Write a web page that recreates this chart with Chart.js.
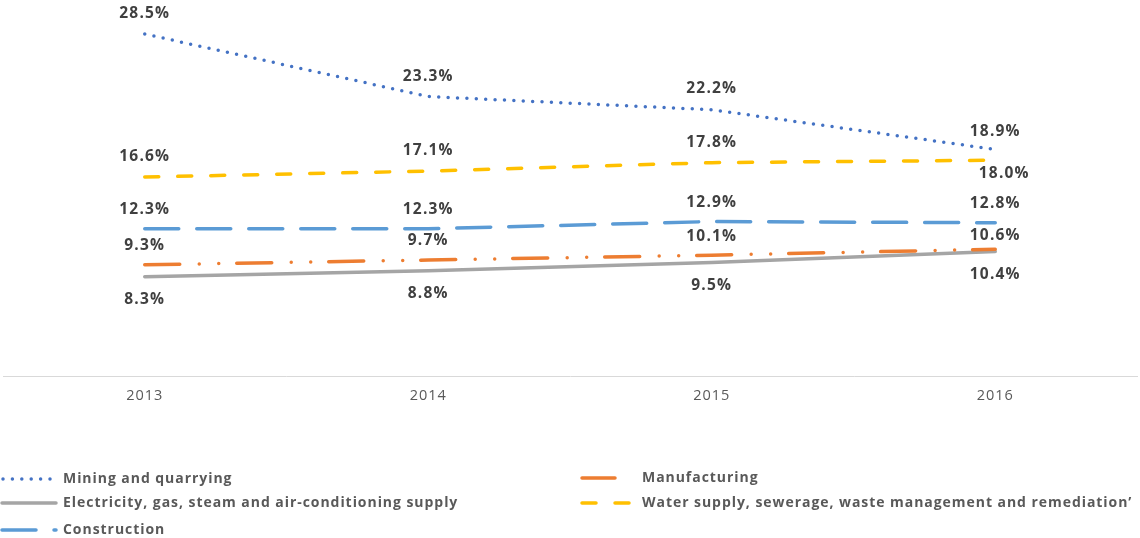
<!DOCTYPE html>
<html>
<head>
<meta charset="utf-8">
<script src="https://cdn.jsdelivr.net/npm/chart.js@4.4.1/dist/chart.umd.min.js"></script>
<style>
  html, body { margin: 0; padding: 0; background: #fff; }
  #chart { display: block; }
</style>
</head>
<body>
<canvas id="chart" width="1140" height="538"></canvas>
<script>
// data
var years = ["2013", "2014", "2015", "2016"];
var mining = [28.5, 23.3, 22.2, 18.9];
var manufacturing = [9.3, 9.7, 10.1, 10.6];
var electricity = [8.3, 8.8, 9.5, 10.4];
var water = [16.6, 17.1, 17.8, 18.0];
var construction = [12.3, 12.3, 12.9, 12.8];

var seriesNames = [
    "Mining and quarrying",
    "Manufacturing",
    "Electricity, gas, steam and air-conditioning supply",
    "Water supply, sewerage, waste management and remediation’",
    "Construction"
];

var labelFont = "bold 15.5px 'Open Sans', sans-serif";
var legendFont = "bold 14px 'Open Sans', sans-serif";

function makeSet(name, values, color, dash, labelDy) {
    return {
        label: name,
        data: values,
        borderColor: color,
        backgroundColor: color,
        borderWidth: 3.5,
        borderDash: dash,
        borderCapStyle: 'round',
        pointRadius: 0,
        pointHoverRadius: 0,
        tension: 0,
        fill: false,
        labelDy: labelDy
    };
}

// the source text is a little stretched, so space the letters out
var spacing = {
    id: 'spacing',
    beforeDraw: function (chart) {
        chart.ctx.letterSpacing = '1px';
    },
    afterDraw: function (chart) {
        chart.ctx.letterSpacing = '0px';
    }
};

// value labels next to each point
var valueLabels = {
    id: 'valueLabels',
    afterDatasetsDraw: function (chart) {
        var ctx = chart.ctx;
        ctx.save();
        ctx.font = labelFont;
        ctx.letterSpacing = '1.2px';
        ctx.fillStyle = '#404040';
        ctx.textAlign = 'center';
        ctx.textBaseline = 'middle';
        chart.data.datasets.forEach(function (ds, i) {
            var meta = chart.getDatasetMeta(i);
            meta.data.forEach(function (pt, j) {
                var dy = ds.labelDy[j];
                var dx = (i === 3 && j === 3) ? 9 : 0;
                ctx.fillText(ds.data[j].toFixed(1) + '%', pt.x + dx, pt.y + dy);
            });
        });
        ctx.restore();
    }
};

// two column legend under the axis
var legendBox = {
    id: 'legendBox',
    afterDraw: function (chart) {
        var ctx = chart.ctx;
        var spots = [
            {x0: 3, x1: 52, y: 479, tx: 63},
            {x0: 582, x1: 615, y: 478, tx: 642},
            {x0: 2, x1: 56, y: 503, tx: 63},
            {x0: 582, x1: 629, y: 503, tx: 642},
            {x0: 2, x1: 56, y: 530, tx: 63}
        ];
        ctx.save();
        chart.data.datasets.forEach(function (ds, i) {
            var s = spots[i];
            ctx.strokeStyle = ds.borderColor;
            ctx.lineWidth = ds.borderWidth;
            ctx.lineCap = 'round';
            ctx.setLineDash(i === 1 ? [] : (ds.borderDash || []));
            ctx.beginPath();
            ctx.moveTo(s.x0, s.y);
            ctx.lineTo(s.x1, s.y);
            ctx.stroke();
            ctx.setLineDash([]);
            ctx.font = legendFont;
            ctx.letterSpacing = '0.95px';
            ctx.fillStyle = '#595959';
            ctx.textAlign = 'left';
            ctx.textBaseline = 'middle';
            ctx.fillText(ds.label, s.tx, s.y);
        });
        ctx.restore();
    }
};

new Chart(document.getElementById('chart'), {
    type: 'line',
    data: {
        labels: years,
        datasets: [
            makeSet(seriesNames[0], mining, '#4472C4', [0, 9.4], [-20, -20, -21, -18]),
            makeSet(seriesNames[1], manufacturing, '#ED7D31', [35, 19.5, 0, 19.5, 0, 18], [-19, -19, -19, -14]),
            makeSet(seriesNames[2], electricity, '#A5A5A5', [], [23, 23, 23, 23]),
            makeSet(seriesNames[3], water, '#FFC000', [14, 19], [-20, -20, -20, 13]),
            makeSet(seriesNames[4], construction, '#5B9BD5', [34, 18], [-19, -19, -19, -19])
        ]
    },
    options: {
        responsive: false,
        devicePixelRatio: 1,
        animation: false,
        layout: {
            padding: {top: 16, left: 3, right: 3, bottom: 122}
        },
        plugins: {
            legend: {display: false},
            tooltip: {enabled: false}
        },
        scales: {
            x: {
                offset: true,
                grid: {display: false, drawTicks: false},
                border: {display: true, color: '#D9D9D9', width: 1},
                ticks: {
                    color: '#595959',
                    padding: 11,
                    font: {family: "'Open Sans', sans-serif", size: 14.5}
                }
            },
            y: {
                display: false,
                min: 0,
                max: 30
            }
        }
    },
    plugins: [spacing, valueLabels, legendBox]
});
</script>
</body>
</html>
